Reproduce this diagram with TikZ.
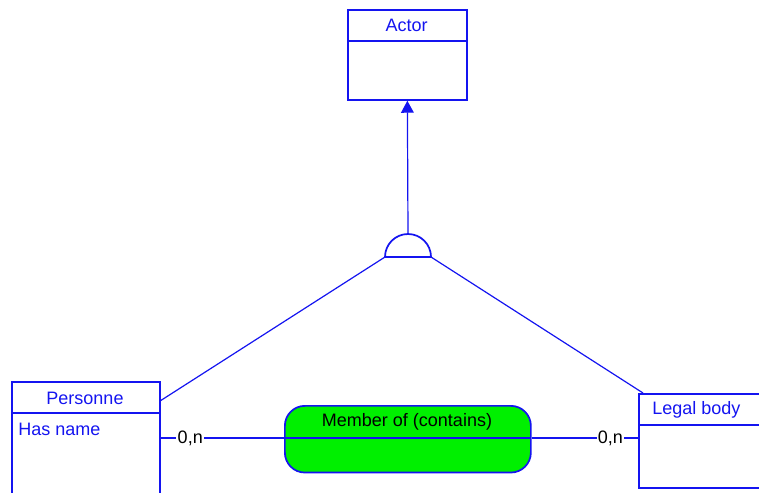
\documentclass[tikz,border=0pt]{standalone}
\usepackage{fontspec}
\setmainfont{Liberation Sans}
\usetikzlibrary{arrows.meta}
\definecolor{ablue}{RGB}{20,20,240}
\definecolor{agreen}{RGB}{0,240,0}
\begin{document}
\begin{tikzpicture}[x=0.75pt,y=-0.75pt,
  every node/.style={font=\fontsize{13.5}{16}\selectfont},
  entity/.style={draw=ablue,line width=1.3pt,rectangle,inner sep=0pt},
  ttl/.style={text=ablue,inner sep=0pt,anchor=center},
  conn/.style={draw=ablue,line width=0.9pt},
  card/.style={text=black,fill=white,inner sep=1pt}]
\useasboundingbox (0,0) rectangle (759,492);
\clip (0,0) rectangle (759,492);
% Actor
\node[entity,minimum width=89.25pt,minimum height=67.5pt,anchor=north west] (actor) at (347,9) {};
\draw[ablue,line width=1.3pt] (347,41) -- (466,41);
\node[ttl] (actort) at (406.5,25) {Actor};
% Personne
\node[entity,minimum width=111pt,minimum height=100pt,anchor=north west] (pers) at (11,381) {};
\draw[ablue,line width=1.3pt] (11,413) -- (159,413);
\node[ttl] (perst) at (85,398) {Personne};
\node[ttl,anchor=west] (persa) at (18,429) {Has name};
% Legal body
\node[entity,minimum width=99pt,minimum height=70.5pt,anchor=north west] (legal) at (638,393) {};
\draw[ablue,line width=1.3pt] (638,425) -- (770,425);
\node[ttl,anchor=west] (legalt) at (652,410) {Legal body};
% Relationship
\node[draw=ablue,fill=agreen,line width=1.3pt,rounded corners=15pt,minimum width=184.5pt,minimum height=50pt,inner sep=0pt,anchor=north west] (rel) at (284,405) {};
\draw[ablue,line width=1.3pt] (284,438) -- (530,438);
\node[inner sep=0pt] (relt) at (407,422) {Member of (contains)};
% inheritance symbol
\draw[ablue,line width=1.3pt] (385,257) arc[start angle=180,end angle=360,radius=23] -- cycle;
\coordinate (itop) at (408,234);
\coordinate (il) at (385,257);
\coordinate (ir) at (431,257);
\draw[conn,-{Triangle[width=9.5pt,length=9pt]}] (itop) -- (actor.south);
\coordinate (pc) at (160,401);
\coordinate (lc) at (643,393);
\draw[conn] (il) -- (pc);
\draw[conn] (ir) -- (lc);
% connectors
\coordinate (pr) at (159,438);
\coordinate (lr) at (638,438);
\draw[conn] (pr) -- (rel.west |- pr) node[card,pos=0.25] (c1) {0,n};
\draw[conn] (rel.east |- lr) -- (lr) node[card,pos=0.74] (c2) {0,n};
\end{tikzpicture}
\end{document}
